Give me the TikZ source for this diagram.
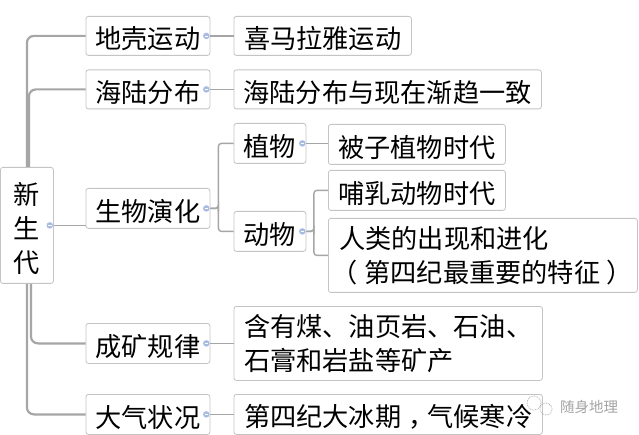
\documentclass[tikz,border=0pt]{standalone}
\usepackage{fontspec}
\setmainfont{Noto Sans CJK SC}
\definecolor{BoxGray}{HTML}{C4C4C4}
\definecolor{TrunkGray}{HTML}{A6A6A6}
\definecolor{FoldBlue}{HTML}{A9BBE3}
\definecolor{MarkGray}{HTML}{A4A4A4}
\usetikzlibrary{calc}
\tikzset{
  topic/.style={draw=BoxGray, line width=0.8pt, rounded corners=2.5pt, fill=white, anchor=north west,
    inner xsep=9.2pt, inner ysep=0pt, align=left, text=black, font=\fontsize{26.2}{34}\selectfont,
    execute at begin node={\rule{0pt}{27.5pt}}},
  trunk/.style={draw=TrunkGray, line width=2.2pt, rounded corners=7pt},
  branch/.style={draw=TrunkGray, line width=1.4pt, rounded corners=3pt},
  fold/.style={circle, fill=FoldBlue, minimum size=6.5pt, inner sep=0pt},
}
\begin{document}
\begin{tikzpicture}[x=1pt, y=-1pt]
  \useasboundingbox[fill=white] (0,0) rectangle (639,435);

  % Root
  \node[topic, minimum width=53pt, minimum height=116pt, text width=34.6pt, align=center] (root) at (0,167) {新\\生\\代};

  % First level
  \node[topic, minimum width=124pt, minimum height=39pt] (crust) at (85.5,16) {地壳运动};
  \node[topic, minimum width=124pt, minimum height=39pt] (land) at (85.5,69.5) {海陆分布};
  \node[topic, minimum width=124pt, minimum height=40pt] (life) at (85.5,188) {生物演化};
  \node[topic, minimum width=124pt, minimum height=40pt] (ore) at (85.5,323) {成矿规律};
  \node[topic, minimum width=124pt, minimum height=40pt] (air) at (85.5,394) {大气状况};

  % Second level
  \node[topic, minimum width=177.5pt, minimum height=39pt] (himalaya) at (233.5,16) {喜马拉雅运动};
  \node[topic, minimum width=307.5pt, minimum height=39pt] (today) at (233.5,69.5) {海陆分布与现在渐趋一致};
  \node[topic, minimum width=72pt, minimum height=40pt] (plant) at (233.5,123) {植物};
  \node[topic, minimum width=72pt, minimum height=40pt] (animal) at (233.5,211) {动物};
  \node[topic, minimum width=308.5pt, minimum height=74pt] (deposit) at (233.5,306) {含有煤、油页岩、石油、\\石膏和岩盐等矿产};
  \node[topic, minimum width=308.5pt, minimum height=40pt] (glacial) at (233.5,394) {第四纪大冰期\hbox{\kern7pt，}\kern-7pt 气候寒冷};

  % Third level
  \node[topic, minimum width=177pt, minimum height=40pt] (angio) at (328,124) {被子植物时代};
  \node[topic, minimum width=177pt, minimum height=40pt] (mammal) at (328,170) {哺乳动物时代};
  \node[topic, minimum width=309pt, minimum height=74pt] (human) at (328,218) {人类的出现和进化\\\hbox{\kern-8pt（}\kern7pt 第四纪最重要的特征\hbox{\kern6pt）}\kern-6pt};

  % Connectors from root
  \draw[trunk] (root.north) |- (crust.west);
  \draw[trunk] ([xshift=2pt]root.north) |- (land.west);
  \draw[branch] (root.east) -- (root.east -| life.west);
  \draw[trunk] ([xshift=4pt]root.south) |- (ore.west);
  \draw[trunk] (root.south) |- (air.west);

  % Connectors between levels
  \draw[branch] (crust.east) -- (himalaya.west);
  \draw[branch] (land.east) -- (today.west);
  \draw[branch] (life.east) -| ($(life.east)!0.35!(plant.west |- life.east)$) |- (plant.west);
  \draw[branch] (life.east) -| ($(life.east)!0.35!(animal.west |- life.east)$) |- (animal.west);
  \draw[branch] (plant.east) -- (plant.east -| angio.west);
  \draw[branch] (animal.east) -| ($(animal.east)!0.35!(mammal.west |- animal.east)$) |- (mammal.west);
  \draw[branch] (animal.east) -| ($(animal.east)!0.35!(human.west |- animal.east)$) |- (human.west);
  \draw[branch] (ore.east) -- (ore.east -| deposit.west);
  \draw[branch] (air.east) -- (glacial.west);

  % Fold marks
  \foreach \n in {root, crust, land, life, ore, air, plant, animal} {
    \node[fold] (\n dot) at ([xshift=-4pt]\n.east) {};
    \draw[white, line width=0.6pt] ([xshift=-1.7pt]\n dot.center) -- ([xshift=1.7pt]\n dot.center);
  }

  % Watermark
  \draw[MarkGray, densely dotted, line width=0.7pt] (534,403) circle (7pt) (546,409) circle (6pt);
  \node[text=MarkGray, font=\fontsize{14.5}{16}\selectfont, anchor=west, inner sep=0pt] (mark) at (560,407) {随身地理};
\end{tikzpicture}
\end{document}
